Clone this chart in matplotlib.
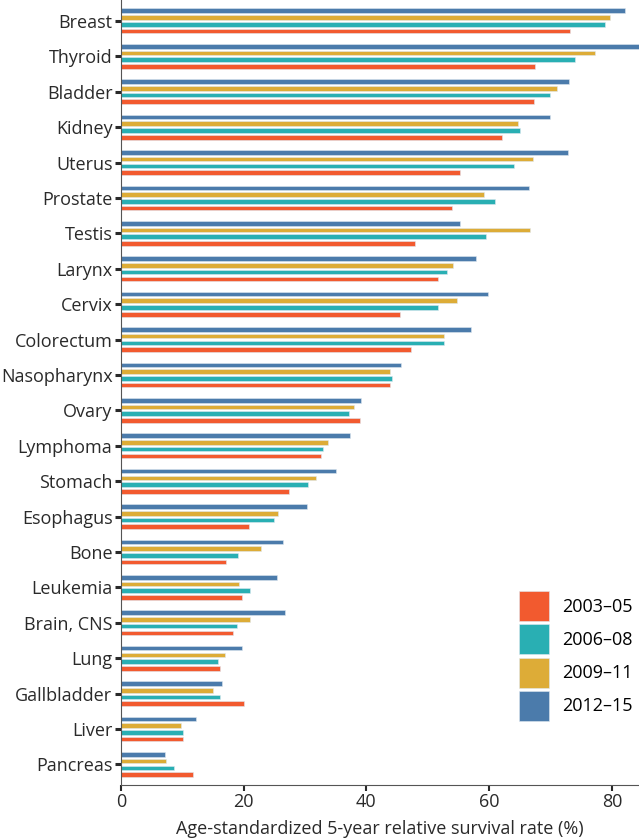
import matplotlib
matplotlib.use("Agg")
import matplotlib.pyplot as plt
import numpy as np

# cancer sites, top to bottom
sites = ["Breast", "Thyroid", "Bladder", "Kidney", "Uterus", "Prostate", "Testis",
         "Larynx", "Cervix", "Colorectum", "Nasopharynx", "Ovary", "Lymphoma",
         "Stomach", "Esophagus", "Bone", "Leukemia", "Brain, CNS", "Lung",
         "Gallbladder", "Liver", "Pancreas"]

p2003_05 = [73.2, 67.5, 67.3, 62.1, 55.2, 53.9, 48.0, 51.7, 45.4, 47.3, 43.8,
            38.9, 32.6, 27.4, 20.9, 17.1, 19.7, 18.2, 16.1, 20.1, 10.1, 11.7]
p2006_08 = [78.9, 74.0, 69.9, 65.0, 64.0, 60.9, 59.5, 53.1, 51.7, 52.7, 44.2,
            37.1, 32.9, 30.5, 25.0, 19.1, 21.0, 18.9, 15.8, 16.2, 10.1, 8.6]
p2009_11 = [79.7, 77.2, 71.0, 64.7, 67.1, 59.2, 66.7, 54.1, 54.8, 52.7, 43.8,
            38.0, 33.8, 31.8, 25.6, 22.8, 19.2, 21.1, 16.9, 15.1, 9.8, 7.4]
p2012_15 = [82.1, 86.0, 73.0, 69.9, 72.8, 66.5, 55.2, 57.8, 59.8, 57.0, 45.6,
            39.2, 37.3, 35.1, 30.3, 26.5, 25.4, 26.8, 19.8, 16.5, 12.2, 7.2]

periods = ["2003\u201305", "2006\u201308", "2009\u201311", "2012\u201315"]
colors = ["#F25A2F", "#29AFB3", "#DDAC37", "#4B7BAB"]

plt.rcParams["font.family"] = ["Open Sans", "DejaVu Sans"]

fig = plt.figure(figsize=(6.39, 8.4), dpi=100)
ax = fig.add_axes([0.189, 0.0655, 0.811, 0.9345])

n = len(sites)
y = np.arange(n)[::-1].astype(float)
step = 0.19
h = 0.13
series = [p2003_05, p2006_08, p2009_11, p2012_15]
offsets = [-1.5 * step, -0.5 * step, 0.5 * step, 1.5 * step]
for vals, off, col, lab in zip(series, offsets, colors, periods):
    ax.barh(y + off, vals, height=h, color=col, edgecolor="#dfe8f0",
            linewidth=0.4, label=lab)

ax.set_yticks(y)
ax.set_yticklabels(sites, fontsize=13, color="#2a2a2a")
ax.set_ylim(-0.58, n - 1 + 0.59)
ax.set_xlim(0, 84.4)
ax.set_xticks([0, 20, 40, 60, 80])
ax.tick_params(axis="x", labelsize=13, colors="#2a2a2a", length=4, width=1.5, pad=2)
ax.tick_params(axis="y", length=4, width=2.2, colors="#2a2a2a", pad=2)
ax.set_xlabel("Age-standardized 5-year relative survival rate (%)", fontsize=13,
              color="#2a2a2a", labelpad=6)

for s in ["top", "right"]:
    ax.spines[s].set_visible(False)
ax.spines["left"].set_color("#555555")
ax.spines["bottom"].set_color("#555555")
ax.spines["left"].set_linewidth(0.8)
ax.spines["bottom"].set_linewidth(0.8)

# big square legend patches
leg = ax.legend(loc="lower right", bbox_to_anchor=(0.988, 0.082), frameon=False,
                fontsize=13, handlelength=1.66, handleheight=2.18,
                labelspacing=0.17, handletextpad=0.75, borderaxespad=0,
                borderpad=0)

fig.savefig("out.png", dpi=100)
